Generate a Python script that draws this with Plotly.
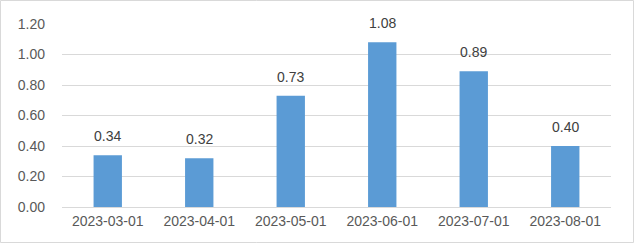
import plotly.graph_objects as go

categories = ["2023-03-01", "2023-04-01", "2023-05-01", "2023-06-01", "2023-07-01", "2023-08-01"]
values = [0.34, 0.32, 0.73, 1.08, 0.89, 0.40]
tick_vals = [0.0, 0.2, 0.4, 0.6, 0.8, 1.0, 1.2]
tick_text = ["0.00", "0.20", "0.40", "0.60", "0.80", "1.00", "1.20"]

W, H = 635, 244
ml, mr, mt, mb = 62, 24, 24, 37
pw, ph = W - ml - mr, H - mt - mb

fig = go.Figure(go.Bar(x=categories, y=values, marker_color="#5B9BD5",
                       marker_line_width=0, width=0.31))

for c, v in zip(categories, values):
    fig.add_annotation(x=c, y=v, text=f"{v:.2f}", showarrow=False,
                       yanchor="bottom", yshift=9,
                       font=dict(family="Liberation Sans", size=14, color="#404040"))

fig.add_shape(type="rect", xref="paper", yref="paper",
              x0=-(ml - 0.5) / pw, x1=1 + (mr - 1.5) / pw,
              y0=-(mb - 1.5) / ph, y1=1 + (mt - 0.5) / ph,
              line=dict(color="#D9D9D9", width=1), layer="below")

fig.update_layout(
    width=W, height=H, margin=dict(l=ml, r=mr, t=mt, b=mb),
    paper_bgcolor="white", plot_bgcolor="white", showlegend=False,
    font=dict(family="Liberation Sans", size=14, color="#595959"),
    xaxis=dict(type="category", showgrid=False, showline=False, ticks="",
               ticklabelstandoff=4),
    yaxis=dict(range=[0, 1.2], tickvals=tick_vals, ticktext=tick_text,
               showgrid=True, gridcolor="#D9D9D9", gridwidth=1,
               zeroline=True, zerolinecolor="#D9D9D9", zerolinewidth=1,
               showline=False, ticks="", ticklabelstandoff=16),
)

fig.write_html("out.html")
